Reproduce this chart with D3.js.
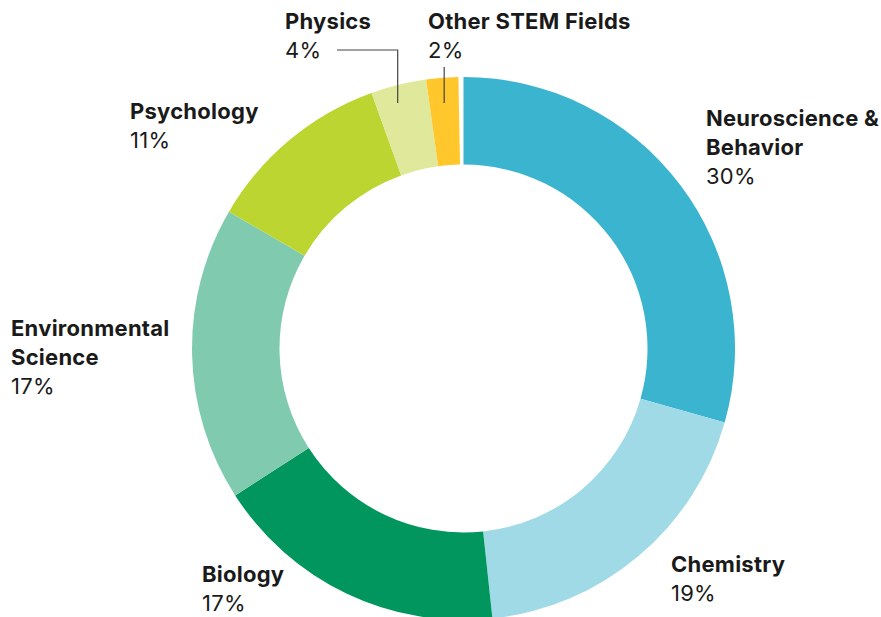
<!DOCTYPE html>
<html>
<head>
<meta charset="utf-8">
<script src="https://cdn.jsdelivr.net/npm/d3@7"></script>
<style>
    body { margin: 0; background: #fff; }
    .label-name { font-weight: 700; }
    .label text { font-family: Inter, "Noto Sans", sans-serif; font-size: 22px; letter-spacing: 0.25px; fill: #1a1a1a; }
</style>
</head>
<body>
<div id="chart-area"></div>
<script>
// share of each field (percent of the ring)
const fields  = ["Neuroscience & Behavior", "Chemistry", "Biology", "Environmental Science", "Psychology", "Physics", "Other STEM Fields"];
const shares  = [29.4, 18.9, 17.6, 17.5, 11.1, 3.3, 1.9];
const labels  = ["30%", "19%", "17%", "17%", "11%", "4%", "2%"];
const colors  = ["#3ab4cf", "#a0dae7", "#00965e", "#80cbb0", "#bdd531", "#dfe89b", "#ffc72c"];

// how each label is split onto lines
const nameLines = [["Neuroscience &", "Behavior"], ["Chemistry"], ["Biology"], ["Environmental", "Science"], ["Psychology"], ["Physics"], ["Other STEM Fields"]];

const WIDTH = 881, HEIGHT = 617;
const CX = 463.5, CY = 348.5;
const R_OUTER = 271.5, R_INNER = 184;
const LINE_H = 29;

// where each label block starts (left x, baseline of first line)
const labelPos = [
    {x: 706, y: 126},
    {x: 671, y: 572},
    {x: 202, y: 582},
    {x: 11,  y: 336},
    {x: 130, y: 119},
    {x: 285, y: 29},
    {x: 428, y: 29}
];

const svg = d3.select("#chart-area").append("svg")
    .attr("width", WIDTH)
    .attr("height", HEIGHT);

const graph = svg.append("g")
    .attr("transform", `translate(${CX}, ${CY})`);

// shares are out of 100, so what is left over shows as a white gap at the top
const angle = d3.scaleLinear().domain([0, 100]).range([0, 2 * Math.PI]);

const pie = d3.pie()
    .sort(null)
    .startAngle(0)
    .endAngle(angle(d3.sum(shares)));

const arc = d3.arc()
    .innerRadius(R_INNER)
    .outerRadius(R_OUTER);

const arcs = pie(shares);

graph.selectAll("path.slice")
    .data(arcs)
    .enter().append("path")
    .attr("class", "slice")
    .attr("fill", (d, i) => colors[i])
    .attr("d", arc);

// leader lines for the two thin slices at the top, both ending at the same depth
const TIP_Y = 103 - CY;
const tipX = a => -TIP_Y * Math.tan(a);

const physX = tipX((arcs[5].startAngle + arcs[5].endAngle) / 2 - 0.02);
const otherX = tipX((arcs[6].startAngle + arcs[6].endAngle) / 2);

graph.append("polyline")
    .attr("fill", "none")
    .attr("stroke", "#444")
    .attr("stroke-width", 1.2)
    .attr("points", [[337 - CX, 50 - CY], [physX, 50 - CY], [physX, TIP_Y]].map(d => d.join(",")).join(" "));

graph.append("line")
    .attr("stroke", "#444")
    .attr("stroke-width", 1.2)
    .attr("x1", otherX).attr("y1", 67 - CY)
    .attr("x2", otherX).attr("y2", TIP_Y);

// text labels
const label = svg.selectAll("g.label")
    .data(fields)
    .enter().append("g")
    .attr("class", "label")
    .attr("transform", (d, i) => `translate(${labelPos[i].x}, ${labelPos[i].y})`);

label.each(function (d, i) {
    const g = d3.select(this);
    nameLines[i].forEach((line, j) => {
        g.append("text")
            .attr("class", "label-name")
            .attr("y", j * LINE_H)
            .text(line);
    });
    g.append("text")
        .attr("y", nameLines[i].length * LINE_H)
        .text(labels[i]);
});
</script>
</body>
</html>
